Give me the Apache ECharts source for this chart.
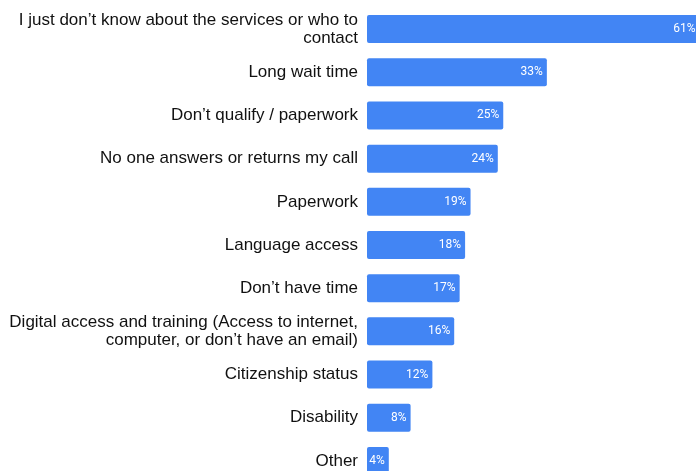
<!DOCTYPE html>
<html>
<head>
<meta charset="utf-8">
<script src="https://cdn.jsdelivr.net/npm/echarts@6/dist/echarts.min.js"></script>
<style>
  html, body { margin: 0; padding: 0; background: #fff; }
  #chart { width: 696px; height: 471px; }
</style>
</head>
<body>
<div id="chart"></div>
<script>
// barriers to getting services, share of respondents (%)
const categories = [
  'I just don’t know about the services or who to\ncontact',
  'Long wait time',
  'Don’t qualify / paperwork',
  'No one answers or returns my call',
  'Paperwork',
  'Language access',
  'Don’t have time',
  'Digital access and training (Access to internet,\ncomputer, or don’t have an email)',
  'Citizenship status',
  'Disability',
  'Other'
]
const values = [61, 33, 25, 24, 19, 18, 17, 16, 12, 8, 4]

const chart = echarts.init(document.getElementById('chart'))

chart.setOption({
  animation: false,
  backgroundColor: '#fff',
  grid: {
    left: 367,
    top: 7.5,
    width: 545,
    height: 475,
    outerBoundsMode: 'none',
    containLabel: false,
  },
  xAxis: {
    type: 'value',
    min: 0,
    max: 100,
    show: false,
  },
  yAxis: {
    type: 'category',
    data: categories,
    inverse: true,
    axisLine: { show: false },
    axisTick: { show: false },
    axisLabel: {
      margin: 9,
      color: '#111',
      fontFamily: 'Liberation Sans, Arial, sans-serif',
      fontSize: 17,
      lineHeight: 18,
      align: 'right',
    },
  },
  series: [
    {
      type: 'bar',
      data: values,
      barWidth: 28,
      clip: false,
      itemStyle: {
        color: '#4285f4',
        borderRadius: 2,
      },
      label: {
        show: true,
        position: 'insideRight',
        distance: 4,
        color: '#fff',
        fontFamily: 'Roboto, sans-serif',
        fontSize: 12,
        formatter: p => p.value + '%',
      },
    },
  ],
})
</script>
</body>
</html>
